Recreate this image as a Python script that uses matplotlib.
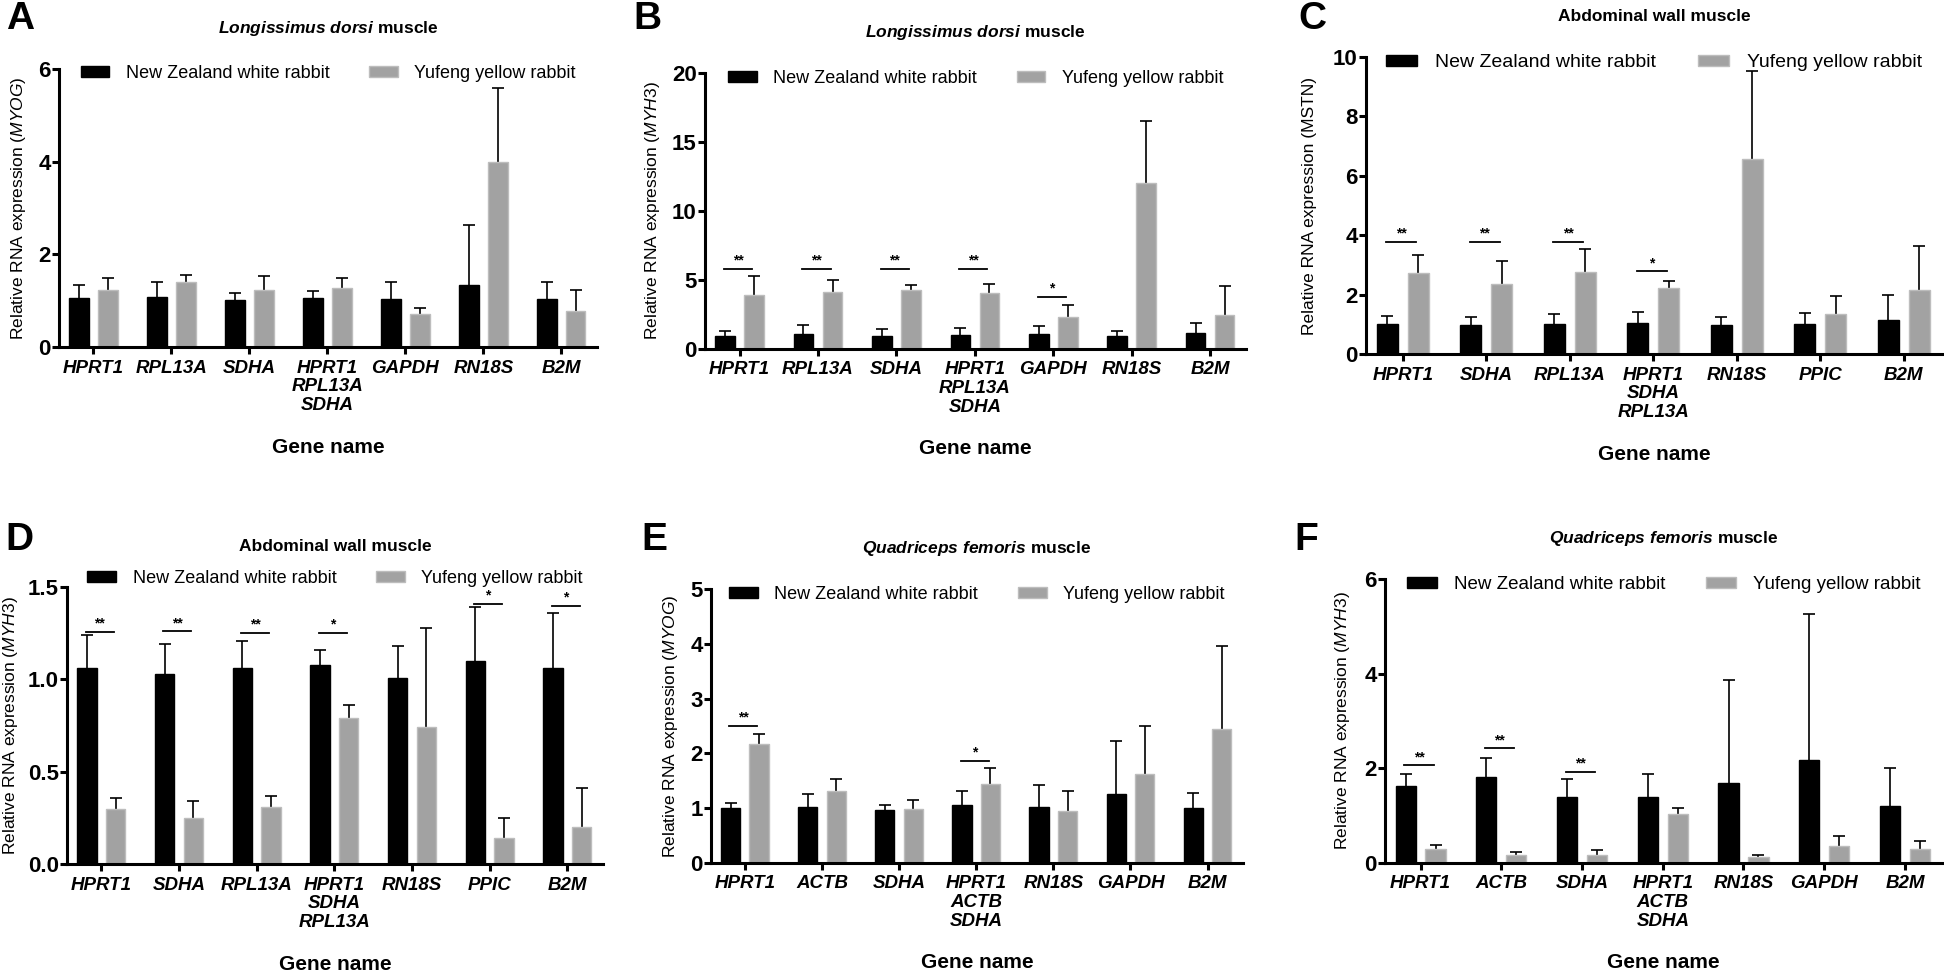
import numpy as np
import matplotlib.pyplot as plt

plt.rcParams['font.family'] = ['Liberation Sans', 'DejaVu Sans']
plt.rcParams['mathtext.fontset'] = 'custom'
plt.rcParams['mathtext.rm'] = 'Liberation Sans'
plt.rcParams['mathtext.it'] = 'Liberation Sans:italic'
plt.rcParams['mathtext.bf'] = 'Liberation Sans:bold'
plt.rcParams['mathtext.bfit'] = 'Liberation Sans:bold:italic'

series_labels = ['New Zealand white rabbit', 'Yufeng yellow rabbit']

# ---- data (means and upper SD) ----
# A: Longissimus dorsi, MYOG
genes_a = ['HPRT1', 'RPL13A', 'SDHA', 'HPRT1\nRPL13A\nSDHA', 'GAPDH', 'RN18S', 'B2M']
nz_a = [1.06, 1.08, 1.01, 1.05, 1.03, 1.34, 1.03]
nz_sd_a = [0.28, 0.32, 0.15, 0.16, 0.37, 1.29, 0.38]
yf_a = [1.24, 1.41, 1.24, 1.28, 0.72, 4.00, 0.77]
yf_sd_a = [0.24, 0.14, 0.29, 0.22, 0.13, 1.58, 0.47]
sig_a = []

# B: Longissimus dorsi, MYH3
genes_b = genes_a
nz_b = [0.96, 1.05, 0.96, 1.00, 1.05, 0.96, 1.13]
nz_sd_b = [0.36, 0.70, 0.48, 0.49, 0.58, 0.36, 0.74]
yf_b = [3.90, 4.12, 4.24, 4.05, 2.30, 12.05, 2.47]
yf_sd_b = [1.42, 0.86, 0.38, 0.67, 0.91, 4.48, 2.10]
sig_b = [(0, 5.82, '**'), (1, 5.82, '**'), (2, 5.82, '**'), (3, 5.82, '**'), (4, 3.78, '*')]

# C: Abdominal wall, MSTN
genes_c = ['HPRT1', 'SDHA', 'RPL13A', 'HPRT1\nSDHA\nRPL13A', 'RN18S', 'PPIC', 'B2M']
nz_c = [1.00, 0.99, 1.01, 1.06, 0.99, 1.02, 1.15]
nz_sd_c = [0.28, 0.25, 0.33, 0.36, 0.27, 0.36, 0.83]
yf_c = [2.74, 2.36, 2.76, 2.22, 6.58, 1.34, 2.16]
yf_sd_c = [0.58, 0.77, 0.77, 0.25, 2.95, 0.60, 1.49]
sig_c = [(0, 3.78, '**'), (1, 3.78, '**'), (2, 3.78, '**'), (3, 2.78, '*')]

# D: Abdominal wall, MYH3
genes_d = genes_c
nz_d = [1.06, 1.03, 1.06, 1.08, 1.01, 1.10, 1.06]
nz_sd_d = [0.18, 0.16, 0.15, 0.08, 0.17, 0.29, 0.30]
yf_d = [0.30, 0.25, 0.31, 0.79, 0.74, 0.14, 0.20]
yf_sd_d = [0.06, 0.09, 0.06, 0.07, 0.54, 0.11, 0.21]
sig_d = [(0, 1.256, '**'), (1, 1.26, '**'), (2, 1.25, '**'), (3, 1.25, '*'),
         (5, 1.41, '*'), (6, 1.40, '*')]

# E: Quadriceps femoris, MYOG
genes_e = ['HPRT1', 'ACTB', 'SDHA', 'HPRT1\nACTB\nSDHA', 'RN18S', 'GAPDH', 'B2M']
nz_e = [1.00, 1.03, 0.97, 1.06, 1.02, 1.26, 1.00]
nz_sd_e = [0.10, 0.22, 0.08, 0.25, 0.40, 0.96, 0.28]
yf_e = [2.17, 1.32, 0.98, 1.44, 0.94, 1.62, 2.45]
yf_sd_e = [0.19, 0.22, 0.17, 0.30, 0.37, 0.88, 1.51]
sig_e = [(0, 2.50, '**'), (3, 1.87, '*')]

# F: Quadriceps femoris, MYH3
genes_f = genes_e
nz_f = [1.62, 1.82, 1.39, 1.39, 1.70, 2.17, 1.20]
nz_sd_f = [0.25, 0.39, 0.38, 0.49, 2.16, 3.10, 0.80]
yf_f = [0.30, 0.17, 0.17, 1.04, 0.12, 0.35, 0.30]
yf_sd_f = [0.09, 0.06, 0.10, 0.12, 0.04, 0.23, 0.17]
sig_f = [(0, 2.06, '**'), (1, 2.42, '**'), (2, 1.92, '**')]


def draw_panel(ax, genes, nz, nz_sd, yf, yf_sd, sig, yticks, ytlabels, ylabel,
               ylab_off, title, leg_y, leg_size=13):
    x = np.arange(len(genes))
    off, w = 0.185, 0.25
    b1 = ax.bar(x - off, nz, w, color='black', edgecolor='black', linewidth=1, zorder=2)
    b2 = ax.bar(x + off, yf, w, color='#a2a2a2', edgecolor='#bdbdbd', linewidth=1, zorder=2)
    for xs, m, s in [(x - off, nz, nz_sd), (x + off, yf, yf_sd)]:
        _, caps, _ = ax.errorbar(xs, m, yerr=[np.zeros(len(m)), s], fmt='none',
                                 ecolor='black', elinewidth=1.2, capsize=4,
                                 capthick=1.2, zorder=1)
        caps[0].set_visible(False)
    for i, h, stars in sig:
        ax.plot([i - 0.2, i + 0.16], [h, h], color='black', lw=1.3)
        ax.annotate(stars, xy=(i - 0.02, h), xytext=(0, 1), textcoords='offset points',
                    ha='center', va='bottom', fontsize=10, fontweight='bold')

    ax.set_xlim(-0.44, 6.46)
    ax.set_ylim(yticks[0], yticks[-1])
    ax.set_yticks(yticks)
    ax.set_yticklabels(ytlabels, fontweight='bold', fontsize=16)
    ax.set_xticks(x)
    ax.set_xticklabels(genes, fontstyle='italic', fontweight='bold', fontsize=13.5,
                       linespacing=1.15)
    for s in ['top', 'right']:
        ax.spines[s].set_visible(False)
    for s in ['left', 'bottom']:
        ax.spines[s].set_linewidth(2.2)
    ax.tick_params(width=2.2, length=5)
    ax.tick_params(axis='y', pad=1)
    ax.tick_params(axis='x', pad=4)
    ax.annotate(ylabel, xy=(0, 0.5), xycoords='axes fraction',
                xytext=(ylab_off * 0.72, 0), textcoords='offset points',
                ha='center', va='center', rotation=90, fontsize=12.5)
    ax.annotate('Gene name', xy=(0.5, 0), xycoords='axes fraction', xytext=(0, -72),
                textcoords='offset points', ha='center', va='center',
                fontsize=15, fontweight='bold')
    ax.annotate(title, xy=(0.5, 1), xycoords='axes fraction', xytext=(0, 29),
                textcoords='offset points', ha='center', va='center',
                fontsize=12.5, fontweight='bold')
    ax.legend([b1, b2], series_labels, loc='center', bbox_to_anchor=(0.5, leg_y), ncol=2,
              frameon=False, fontsize=leg_size, handlelength=1.6, handleheight=0.55,
              handletextpad=0.9, columnspacing=2.2, borderaxespad=0, borderpad=0)


fig = plt.figure(figsize=(19.44, 9.75), dpi=100)

ax_a = fig.add_axes([0.0304, 0.6441, 0.2768, 0.2851])
ax_b = fig.add_axes([0.3627, 0.6421, 0.2783, 0.2831])
ax_c = fig.add_axes([0.7027, 0.6369, 0.2963, 0.3046])
ax_d = fig.add_axes([0.0345, 0.1138, 0.2757, 0.2841])
ax_e = fig.add_axes([0.3657, 0.1149, 0.2737, 0.2810])
ax_f = fig.add_axes([0.7125, 0.1149, 0.2865, 0.2913])

ld_title = r'$\mathbfit{Longissimus\ dorsi}$ muscle'
qf_title = r'$\mathbfit{Quadriceps\ femoris}$ muscle'
aw_title = 'Abdominal wall muscle'

draw_panel(ax_a, genes_a, nz_a, nz_sd_a, yf_a, yf_sd_a, sig_a,
           [0, 2, 4, 6], ['0', '2', '4', '6'],
           r'Relative RNA expression ($\mathit{MYOG}$)', -41, ld_title, 0.985)
draw_panel(ax_b, genes_b, nz_b, nz_sd_b, yf_b, yf_sd_b, sig_b,
           [0, 5, 10, 15, 20], ['0', '5', '10', '15', '20'],
           r'Relative RNA expression ($\mathit{MYH3}$)', -53, ld_title, 0.98)
draw_panel(ax_c, genes_c, nz_c, nz_sd_c, yf_c, yf_sd_c, sig_c,
           [0, 2, 4, 6, 8, 10], ['0', '2', '4', '6', '8', '10'],
           'Relative RNA expression (MSTN)', -57, aw_title, 0.98, leg_size=14)
draw_panel(ax_d, genes_d, nz_d, nz_sd_d, yf_d, yf_sd_d, sig_d,
           [0, 0.5, 1.0, 1.5], ['0.0', '0.5', '1.0', '1.5'],
           r'Relative RNA expression ($\mathit{MYH3}$)', -57, aw_title, 1.03)
draw_panel(ax_e, genes_e, nz_e, nz_sd_e, yf_e, yf_sd_e, sig_e,
           [0, 1, 2, 3, 4, 5], ['0', '1', '2', '3', '4', '5'],
           r'Relative RNA expression ($\mathit{MYOG}$)', -40, qf_title, 0.98)
draw_panel(ax_f, genes_f, nz_f, nz_sd_f, yf_f, yf_sd_f, sig_f,
           [0, 2, 4, 6], ['0', '2', '4', '6'],
           r'Relative RNA expression ($\mathit{MYH3}$)', -43, qf_title, 0.98, leg_size=13.5)

# panel letters
for letter, xf, yl in [('A', 0.003, 0.981), ('B', 0.326, 0.981), ('C', 0.668, 0.981),
                       ('D', 0.003, 0.446), ('E', 0.330, 0.446), ('F', 0.666, 0.446)]:
    fig.text(xf, yl, letter, fontsize=28, fontweight='bold', ha='left', va='center')

plt.savefig('out.png', dpi=100)
plt.close()
